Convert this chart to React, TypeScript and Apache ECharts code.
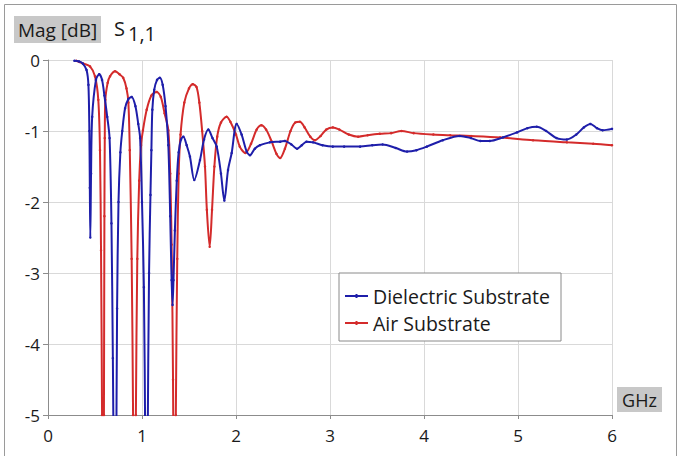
import React, { useEffect, useRef } from "react";
import * as echarts from "echarts";

// Frequency (GHz) and magnitude (dB) samples
const dielectricFreq = [
  0.28, 0.33, 0.37, 0.41, 0.43, 0.44, 0.445, 0.45, 0.458, 0.47, 0.51, 0.545, 0.575, 0.6, 0.63, 0.655, 0.675, 0.69,
  0.7, 0.713, 0.725, 0.735, 0.75, 0.77, 0.79, 0.82, 0.855, 0.89, 0.93, 0.96, 0.98, 1.0, 1.02, 1.035, 1.048, 1.06,
  1.075, 1.09, 1.1, 1.11, 1.13, 1.16, 1.19, 1.22, 1.25, 1.28, 1.3, 1.315, 1.325, 1.335, 1.35, 1.37, 1.39, 1.415,
  1.44, 1.475, 1.51, 1.556, 1.617, 1.66, 1.705, 1.75, 1.795, 1.84, 1.876, 1.915, 1.954, 2.007, 2.06, 2.114, 2.149,
  2.2, 2.255, 2.36, 2.47, 2.52, 2.59, 2.65, 2.7, 2.75, 2.82, 2.92, 3.03, 3.15, 3.32, 3.45, 3.56, 3.7, 3.82, 3.92,
  4.03, 4.2, 4.38, 4.5, 4.6, 4.7, 4.84, 4.99, 5.1, 5.2, 5.3, 5.41, 5.52, 5.62, 5.7, 5.77, 5.84, 5.9, 6.0,
];
const dielectricMag = [
  -0.01, -0.02, -0.05, -0.14, -0.35, -1.0, -1.8, -2.5, -1.6, -0.8, -0.28, -0.2, -0.28, -0.5, -0.8, -1.1, -2.3, -4.2,
  -6, -9, -6, -3.5, -2.0, -1.3, -1.0, -0.68, -0.55, -0.52, -0.65, -0.9, -1.1, -2.0, -3.2, -5.5, -9, -5.5,
  -3.0, -1.9, -1.27, -0.7, -0.42, -0.28, -0.25, -0.35, -0.65, -1.2, -2.2, -3.1, -3.45, -3.1, -2.4, -1.7, -1.3, -1.12,
  -1.08, -1.2, -1.36, -1.69, -1.41, -1.12, -0.98, -1.1, -1.22, -1.6, -1.98, -1.55, -1.31, -0.9, -1.05, -1.29, -1.34,
  -1.25, -1.2, -1.16, -1.15, -1.14, -1.19, -1.25, -1.2, -1.15, -1.16, -1.2, -1.22, -1.22, -1.22, -1.2, -1.19, -1.24, -1.29, -1.27,
  -1.22, -1.13, -1.07, -1.1, -1.14, -1.14, -1.09, -1.02, -0.96, -0.94, -1.0, -1.1, -1.12, -1.05, -0.95, -0.9, -0.96, -0.99, -0.97,
];

const airFreq = [
  0.3, 0.376, 0.447, 0.5, 0.535, 0.553, 0.564, 0.575, 0.585, 0.595, 0.6, 0.604, 0.61, 0.635, 0.66, 0.713, 0.76, 0.8,
  0.835, 0.855, 0.87, 0.89, 0.905, 0.92, 0.935, 0.95, 0.97, 0.99, 1.01, 1.05, 1.1, 1.156, 1.2, 1.24, 1.28, 1.3,
  1.315, 1.33, 1.347, 1.36, 1.375, 1.39, 1.41, 1.45, 1.5, 1.54, 1.58, 1.61, 1.64, 1.67, 1.69, 1.72, 1.745, 1.77,
  1.8, 1.84, 1.9, 1.94, 2.0, 2.04, 2.1, 2.16, 2.22, 2.27, 2.32, 2.38, 2.43, 2.47, 2.52, 2.58, 2.63, 2.68, 2.73,
  2.79, 2.84, 2.9, 2.96, 3.03, 3.1, 3.2, 3.3, 3.4, 3.53, 3.65, 3.76, 3.89, 4.1, 4.28, 4.5, 4.81, 5.16, 5.52, 5.8, 6.0,
];
const airMag = [
  -0.01, -0.05, -0.09, -0.23, -0.56, -1.27, -2.68, -5, -9, -5, -2.2, -1.1, -0.56, -0.32, -0.23, -0.16, -0.2, -0.25,
  -0.4, -0.6, -1.27, -2.8, -5, -9, -5, -2.8, -1.7, -1.2, -0.99, -0.7, -0.5, -0.45, -0.52, -0.75, -0.99, -1.6,
  -2.6, -4.5, -9, -5, -2.8, -1.6, -1.05, -0.6, -0.4, -0.34, -0.38, -0.6, -1.0, -1.5, -2.11, -2.63, -2.11, -1.5,
  -1.08, -0.88, -0.8, -0.87, -1.05, -1.22, -1.31, -1.18, -0.98, -0.92, -0.98, -1.15, -1.32, -1.38, -1.25, -1.0, -0.88, -0.87, -0.95,
  -1.08, -1.13, -1.07, -0.98, -0.95, -0.98, -1.05, -1.08, -1.06, -1.04, -1.03, -1.0, -1.03, -1.05, -1.06, -1.07, -1.09, -1.13, -1.16, -1.18, -1.2,
];

const seriesNames = ["Dielectric Substrate", "Air Substrate"];
const seriesColors = ["#1e1eaa", "#d42b2b"];

const FONT = "'Open Sans', 'Noto Sans', sans-serif";
const LEGEND_ICON = "path://M0,3 L23,3 L23,5 L0,5 Z M10.5,2 L12.5,2 L12.5,6 L10.5,6 Z";

export default function App() {
  const ref = useRef<HTMLDivElement>(null);

  useEffect(() => {
    if (!ref.current) return;
    const chart = echarts.init(ref.current, undefined, { renderer: "svg" });
    const dielectric = dielectricFreq.map((f, i) => [f, dielectricMag[i]]);
    const air = airFreq.map((f, i) => [f, airMag[i]]);

    chart.setOption({
      animation: false,
      backgroundColor: "#ffffff",
      textStyle: { fontFamily: FONT },
      grid: { left: 48, right: 69, top: 60, bottom: 41, containLabel: false },
      xAxis: {
        type: "value",
        min: 0,
        max: 6,
        interval: 1,
        axisLine: { show: true, onZero: false, lineStyle: { color: "#8c8c8c", width: 1 } },
        axisTick: { show: true, inside: false, length: 4, lineStyle: { color: "#8c8c8c" } },
        axisLabel: { color: "#1a1a1a", fontSize: 17, margin: 12, fontFamily: FONT },
        splitLine: { show: true, lineStyle: { color: "#d9d9d9", width: 1 } },
      },
      yAxis: {
        type: "value",
        min: -5,
        max: 0,
        interval: 1,
        axisLine: { show: true, onZero: false, lineStyle: { color: "#8c8c8c", width: 1 } },
        axisTick: { show: true, inside: false, length: 5, lineStyle: { color: "#8c8c8c" } },
        axisLabel: { color: "#1a1a1a", fontSize: 17, margin: 8, fontFamily: FONT },
        splitLine: { show: true, lineStyle: { color: "#d9d9d9", width: 1 } },
      },
      legend: {
        orient: "vertical",
        left: 339,
        top: 273,
        data: seriesNames.map((n) => ({ name: n, icon: LEGEND_ICON })),
        itemWidth: 23,
        itemHeight: 4,
        itemGap: 5,
        padding: [12, 11, 7, 6],
        borderColor: "#8a8a8a",
        borderWidth: 1,
        backgroundColor: "#ffffff",
        textStyle: { color: "#1a1a1a", fontSize: 19.5, fontFamily: FONT, lineHeight: 22 },
      },
      graphic: [
        {
          type: "rect",
          shape: { x: 4.5, y: 4.5, width: 672, height: 470 },
          style: { fill: "none", stroke: "#9a9a9a", lineWidth: 1 },
          silent: true,
        },
        {
          type: "rect",
          shape: { x: 14, y: 16, width: 87, height: 27 },
          style: { fill: "#c8c8c8" },
          silent: true,
        },
        {
          type: "text",
          x: 57.5,
          y: 29.5,
          style: {
            text: "Mag [dB]",
            fill: "#1a1a1a",
            font: "19px " + FONT,
            align: "center",
            verticalAlign: "middle",
          },
          silent: true,
        },
        {
          type: "text",
          x: 114,
          y: 28,
          style: {
            text: "S",
            fill: "#1a1a1a",
            font: "20px " + FONT,
            align: "left",
            verticalAlign: "middle",
          },
          silent: true,
        },
        {
          type: "text",
          x: 128,
          y: 33,
          style: {
            text: "1,1",
            fill: "#1a1a1a",
            font: "20px " + FONT,
            align: "left",
            verticalAlign: "middle",
          },
          silent: true,
        },
        {
          type: "rect",
          shape: { x: 617, y: 387, width: 45, height: 25 },
          style: { fill: "#c8c8c8" },
          silent: true,
        },
        {
          type: "text",
          x: 639.5,
          y: 399.5,
          style: {
            text: "GHz",
            fill: "#1a1a1a",
            font: "18px " + FONT,
            align: "center",
            verticalAlign: "middle",
          },
          silent: true,
        },
      ],
      series: [
        {
          name: seriesNames[0],
          type: "line",
          data: dielectric,
          smooth: 0.3,
          showSymbol: true,
          symbol: "circle",
          symbolSize: 2.5,
          clip: true,
          color: seriesColors[0],
          lineStyle: { color: seriesColors[0], width: 2 },
          itemStyle: { color: seriesColors[0] },
          z: 3,
        },
        {
          name: seriesNames[1],
          type: "line",
          data: air,
          smooth: 0.3,
          showSymbol: true,
          symbol: "circle",
          symbolSize: 2.5,
          clip: true,
          color: seriesColors[1],
          lineStyle: { color: seriesColors[1], width: 2 },
          itemStyle: { color: seriesColors[1] },
          z: 2,
        },
      ],
    });

    return () => chart.dispose();
  }, []);

  return (
    <div
      ref={ref}
      style={{ position: "absolute", left: 0, top: 0, width: 681, height: 456 }}
    />
  );
}
